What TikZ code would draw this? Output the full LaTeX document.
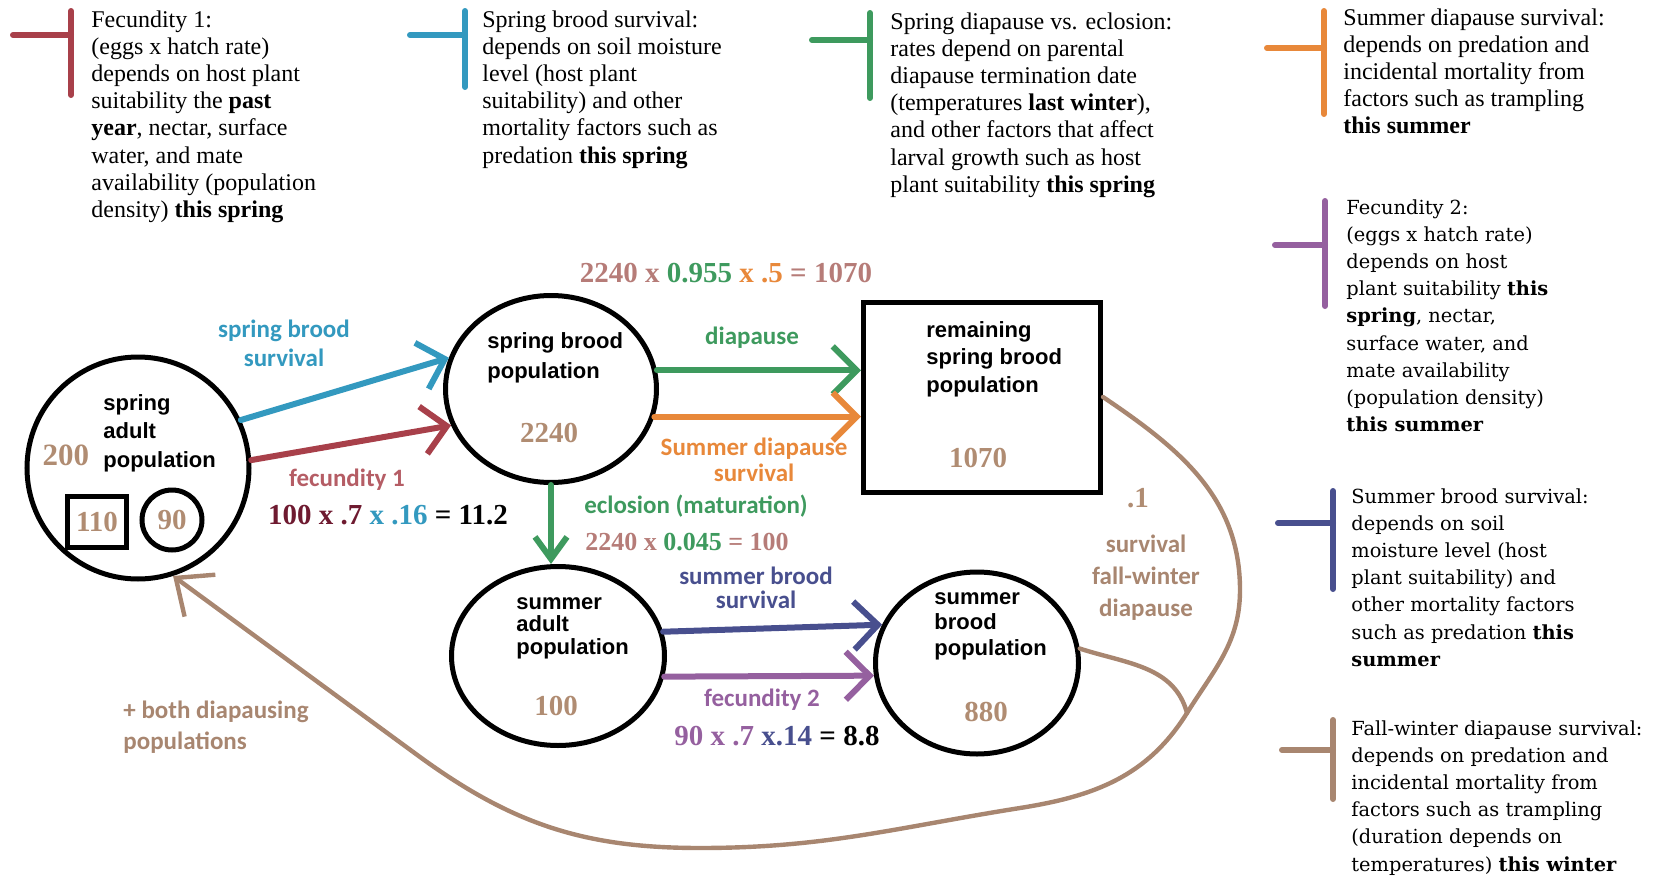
\documentclass[tikz,border=0pt]{standalone}
\usepackage{fontspec}
\setmainfont{Liberation Serif}
\setsansfont{Liberation Sans}
\newfontfamily\calibri{Carlito}
\newfontfamily\wideserif{DejaVu Serif}
\usetikzlibrary{arrows.meta,shapes.geometric}

\definecolor{fecred}{HTML}{A8404A}
\definecolor{sbblue}{HTML}{3399BF}
\definecolor{dgreen}{HTML}{3E9A5E}
\definecolor{sorange}{HTML}{E8883A}
\definecolor{fpurple}{HTML}{95609F}
\definecolor{snavy}{HTML}{484F8E}
\definecolor{fwtan}{HTML}{A88670}
\definecolor{numtan}{HTML}{B08C72}
\definecolor{rose}{HTML}{B67C78}
\definecolor{maroon}{HTML}{6E1A30}

\begin{document}
\begin{tikzpicture}[x=0.5pt,y=0.5pt,
    pop/.style={draw,line width=2.5pt,inner sep=0pt},
    poptext/.style={anchor=west,align=left,inner sep=0pt,font=\sffamily\bfseries\fontsize{11}{#1}\selectfont},
    num/.style={text=numtan,inner sep=0pt,font=\bfseries\fontsize{14.5}{16}\selectfont},
    flowlabel/.style={align=center,inner sep=0pt,font=\calibri\bfseries\fontsize{12.5}{#1}\selectfont},
    calc/.style={inner sep=0pt,font=\bfseries\fontsize{14.5}{16}\selectfont},
    flow/.style={line width=3pt,line cap=round,-{Straight Barb[length=12pt,width=24pt]}},
    fwline/.style={fwtan,line width=2.2pt,line cap=round,line join=round},
    legtick/.style={line width=3pt,line cap=round},
    legtext/.style={anchor=north west,align=left,inner sep=0pt,font=\fontsize{12}{13.6}\selectfont},
    legwide/.style={anchor=north west,align=left,inner sep=0pt,font=\wideserif\fontsize{9.7}{13.6}\selectfont}]
  \useasboundingbox (0,0) rectangle (1656,-878);

  % Legend marks:
  \draw[legtick,fecred] (13,-35) -- (71,-35) (71,-11) -- (71,-95);
  \draw[legtick,sbblue] (410,-35) -- (465,-35) (465,-11) -- (465,-87);
  \draw[legtick,dgreen] (812,-40) -- (870,-40) (870,-13) -- (870,-98);
  \draw[legtick,sorange] (1267,-48) -- (1324,-48) (1324,-11) -- (1324,-114);
  \draw[legtick,fpurple] (1275,-245) -- (1325,-245) (1325,-201) -- (1325,-306);
  \draw[legtick,snavy] (1278,-523) -- (1333,-523) (1333,-491) -- (1333,-589);
  \draw[legtick,fwtan] (1282,-750) -- (1333,-750) (1333,-720) -- (1333,-799);

  % Legend texts:
  \node[legtext] at (91,-10) {Fecundity 1:\\(eggs x hatch rate)\\depends on host plant\\suitability the \textbf{past}\\\textbf{year}, nectar, surface\\water, and mate\\availability (population\\density) \textbf{this spring}};
  \node[legtext] at (482,-10) {Spring brood survival:\\depends on soil moisture\\level (host plant\\suitability) and other\\mortality factors such as\\predation \textbf{this spring}};
  \node[legtext] at (890,-12) {Spring diapause vs. eclosion:\\rates depend on parental\\diapause termination date\\(temperatures \textbf{last winter}),\\and other factors that affect\\larval growth such as host\\plant suitability \textbf{this spring}};
  \node[legtext] at (1343,-8) {Summer diapause survival:\\depends on predation and\\incidental mortality from\\factors such as trampling\\\textbf{this summer}};
  \node[legwide] at (1346,-199) {Fecundity 2:\\(eggs x hatch rate)\\depends on host\\plant suitability \textbf{this}\\\textbf{spring}, nectar,\\surface water, and\\mate availability\\(population density)\\\textbf{this summer}};
  \node[legwide] at (1351,-488) {Summer brood survival:\\depends on soil\\moisture level (host\\plant suitability) and\\other mortality factors\\such as predation \textbf{this}\\\textbf{summer}};
  \node[legwide] at (1351,-720) {Fall-winter diapause survival:\\depends on predation and\\incidental mortality from\\factors such as trampling\\(duration depends on\\temperatures) \textbf{this winter}};

  % Populations:
  \node[pop,circle,minimum size=111pt] (sa) at (138,-468) {};
  \node[pop,ellipse,minimum width=105.5pt,minimum height=93.5pt] (sbp) at (551,-389) {};
  \node[pop,rectangle,minimum width=118.5pt,minimum height=95pt] (rem) at (982,-397) {};
  \node[pop,ellipse,minimum width=106.5pt,minimum height=89.5pt] (sap) at (558,-656) {};
  \node[pop,ellipse,minimum width=101.5pt,minimum height=91pt] (sbr) at (977,-663) {};

  \node[poptext=14.3] at (103,-433) {spring\\adult\\population};
  \node[num,font=\bfseries\fontsize{15.5}{17}\selectfont] at (66,-455) {200};
  \node[num,pop,rectangle,minimum width=29.5pt,minimum height=25.5pt] (b110) at (97,-522) {110};
  \node[num,pop,circle,minimum size=30pt] (c90) at (172,-520) {90};
  \node[poptext=15] at (487,-358) {spring brood\\population};
  \node[num] at (549,-433) {2240};
  \node[poptext=13.75] at (926,-359) {remaining\\spring brood\\population};
  \node[num] at (978,-458) {1070};
  \node[poptext=11.25] at (516,-628) {summer\\adult\\population};
  \node[num] at (556,-706) {100};
  \node[poptext=12.75] at (934,-626) {summer\\brood\\population};
  \node[num] at (986,-712) {880};

  % Flows:
  \draw[flow,sbblue] (sa.25) -- (sbp.163);
  \draw[flow,fecred] (sa.4) -- (sbp.200);
  \draw[flow,dgreen] (sbp.10) -- (sbp.10 -| rem.west);
  \draw[flow,sorange] (sbp.-15) -- (sbp.-15 -| rem.west);
  \draw[flow,dgreen,-{Straight Barb[length=11pt,width=16pt]}] (sbp.south) -- (sbp.south |- sap.north);
  \draw[flow,snavy] (sap.13) -- (sbr.158);
  \draw[flow,fpurple] (sap.-11) -- (sbr.187);

  % Fall-winter return:
  \coordinate (merge) at (1187,-713);
  \draw[fwline] (sbr.8) to[out=-18,in=105] (merge);
  \draw[fwline,-{Straight Barb[length=15pt,width=26pt]}] (rem.east) to[out=-34,in=90] (1240,-590)
    to[out=-90,in=58] (merge) to[out=-122,in=9] (1020,-808) to[out=-171,in=0] (700,-848)
    to[out=180,in=-36] (420,-757) -- (sa.-72);

  % Flow labels:
  \node[flowlabel=14.5,text=sbblue] at (284,-343) {spring brood\\survival};
  \node[flowlabel=14,text=fecred!85!white] at (347,-480) {fecundity 1};
  \node[calc] at (388,-515) {\textcolor{maroon}{100 x .7} \textcolor{sbblue}{x .16} = 11.2};
  \node[calc] at (726,-273) {\textcolor{rose}{2240 x} \textcolor{dgreen}{0.955} \textcolor{sorange}{x .5} \textcolor{rose}{= 1070}};
  \node[flowlabel=14,text=dgreen] at (752,-338) {diapause};
  \node[flowlabel=13.3,text=sorange] at (754,-460) {Summer diapause\\survival};
  \node[flowlabel=14,text=dgreen] at (696,-506) {eclosion (maturation)};
  \node[calc,font=\bfseries\fontsize{13}{15}\selectfont] at (687,-542) {\textcolor{rose}{2240 x} \textcolor{dgreen}{0.045} \textcolor{rose}{= 100}};
  \node[flowlabel=11.8,text=snavy] at (756,-588) {summer brood\\survival};
  \node[flowlabel=14,text=fpurple] at (762,-700) {fecundity 2};
  \node[calc] at (777,-736) {\textcolor{fpurple}{90 x .7} \textcolor{snavy}{x.14} = 8.8};
  \node[num] at (1138,-498) {.1};
  \node[flowlabel=16,text=fwtan] at (1146,-578) {survival\\fall-winter\\diapause};
  \node[flowlabel=15.5,text=fwtan,anchor=west,align=left] at (123,-727) {+ both diapausing\\populations};
\end{tikzpicture}
\end{document}
